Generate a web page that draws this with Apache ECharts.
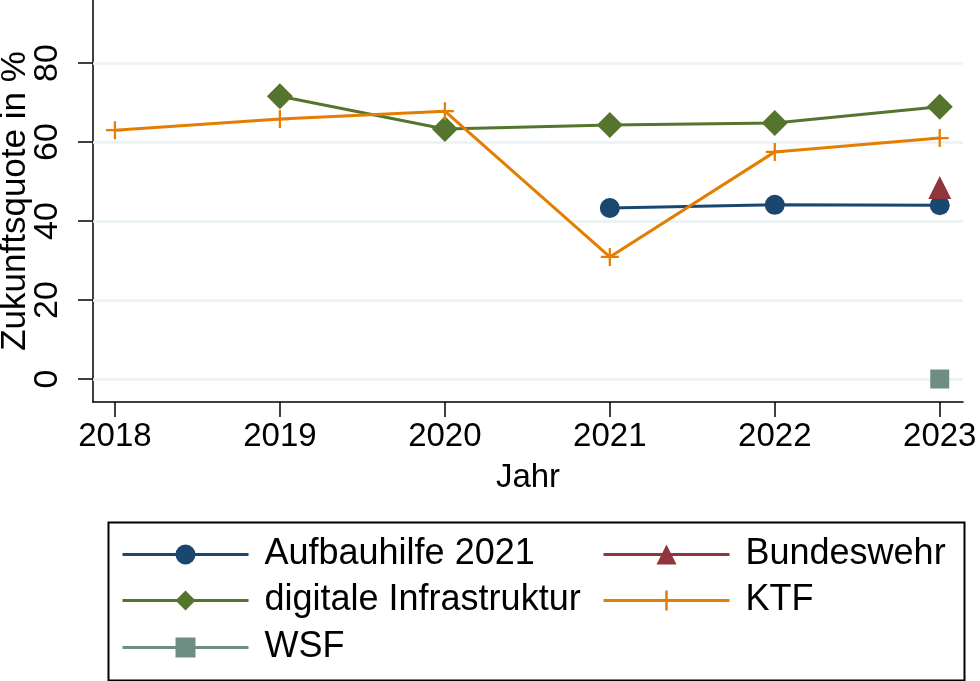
<!DOCTYPE html>
<html>
<head>
<meta charset="utf-8">
<script src="https://cdn.jsdelivr.net/npm/echarts@6/dist/echarts.min.js"></script>
<style>
html,body{margin:0;padding:0;background:#fff;}
#chart{width:980px;height:681px;}
</style>
</head>
<body>
<div id="chart"></div>
<script>
const years = [2018, 2019, 2020, 2021, 2022, 2023];
const yTicks = [0, 20, 40, 60, 80];
const aufbauhilfe = [null, null, null, 43.3, 44.1, 44.0];
const bundeswehr = [null, null, null, null, null, 48.5];
const digitale = [null, 71.6, 63.3, 64.3, 64.8, 68.9];
const ktf = [63.0, 65.8, 67.8, 30.9, 57.5, 61.0];
const wsf = [null, null, null, null, null, 0];

const FONT = 'Liberation Sans, Arial, sans-serif';
const plusPath = 'path://M7,0H9V7H16V9H9V16H7V9H0V7H7Z';

function pairs(vals) {
  const out = [];
  vals.forEach((v, i) => { if (v !== null) out.push([years[i], v]); });
  return out;
}

function mkSeries(name, vals, color, symbol, size, z) {
  return {
    name: name, type: 'line', data: pairs(vals), z: z,
    symbol: symbol, symbolSize: size,
    lineStyle: { color: color, width: 3 },
    itemStyle: { color: color },
    emphasis: { disabled: true },
    animation: false
  };
}

function mkLegend(name, left, top) {
  return {
    data: [name], orient: 'horizontal', left: left, top: top,
    itemWidth: 126, itemHeight: 25, padding: 0,
    lineStyle: { width: 3 },
    textStyle: { fontFamily: FONT, fontSize: 36, color: '#000', padding: [0, 0, 0, 11] },
    selectedMode: false
  };
}

const chart = echarts.init(document.getElementById('chart'), null, { renderer: 'canvas' });
const option = {
  animation: false,
  backgroundColor: '#ffffff',
  grid: { left: 93, right: 17, top: 0, bottom: 279, containLabel: false, outerBoundsMode: 'none' },
  xAxis: {
    type: 'value', min: 2017.867, max: 2023.141,
    name: 'Jahr', nameLocation: 'middle', nameGap: 59, nameMoveOverlap: false,
    nameTextStyle: { fontFamily: FONT, fontSize: 33, color: '#000' },
    axisLine: { show: true, onZero: false, lineStyle: { color: '#000', width: 1.5 } },
    axisTick: { show: true, length: 15, customValues: years, lineStyle: { color: '#000', width: 1.5 } },
    axisLabel: { customValues: years, fontFamily: FONT, fontSize: 33, color: '#000', margin: 18,
      formatter: v => String(Math.round(v)) },
    splitLine: { show: false }
  },
  yAxis: {
    type: 'value', min: -5.82, max: 95.95,
    name: 'Zukunftsquote in %', nameLocation: 'middle', nameGap: 60, nameRotate: 90, nameMoveOverlap: false,
    nameTextStyle: { fontFamily: FONT, fontSize: 35, color: '#000' },
    axisLine: { show: true, onZero: false, lineStyle: { color: '#000', width: 1.5 } },
    axisTick: { show: true, length: 15, customValues: yTicks, lineStyle: { color: '#000', width: 1.5 } },
    axisLabel: { customValues: yTicks, rotate: 90, fontFamily: FONT, fontSize: 34, color: '#000', margin: 28 },
    splitLine: { show: false }
  },
  legend: [
    mkLegend('Aufbauhilfe 2021', 121, 536.5),
    mkLegend('digitale Infrastruktur', 121, 582.5),
    mkLegend('WSF', 121, 629.5),
    mkLegend('Bundeswehr', 602, 536.5),
    mkLegend('KTF', 602, 582.5)
  ],
  graphic: [
    { type: 'rect', left: 106, top: 520, shape: { width: 856, height: 158 },
      style: { fill: 'none', stroke: '#000', lineWidth: 2 }, z: -1 }
  ],
  series: [
    {
      name: 'grid', type: 'line', data: [], z: 1, silent: true,
      markLine: {
        z: 1, silent: true, symbol: 'none', animation: false,
        label: { show: false },
        lineStyle: { color: '#eaf2f3', width: 2.5, type: 'solid' },
        emphasis: { disabled: true },
        data: yTicks.map(v => ({ yAxis: v }))
      }
    },
    mkSeries('Aufbauhilfe 2021', aufbauhilfe, '#1a476f', 'circle', 20, 3),
    mkSeries('Bundeswehr', bundeswehr, '#90353b', 'triangle', 23, 3),
    mkSeries('digitale Infrastruktur', digitale, '#55752f', 'diamond', 26, 3),
    mkSeries('KTF', ktf, '#e37e00', plusPath, 18, 3),
    mkSeries('WSF', wsf, '#6e8e84', 'rect', 19, 3)
  ]
};
chart.setOption(option);
</script>
</body>
</html>
